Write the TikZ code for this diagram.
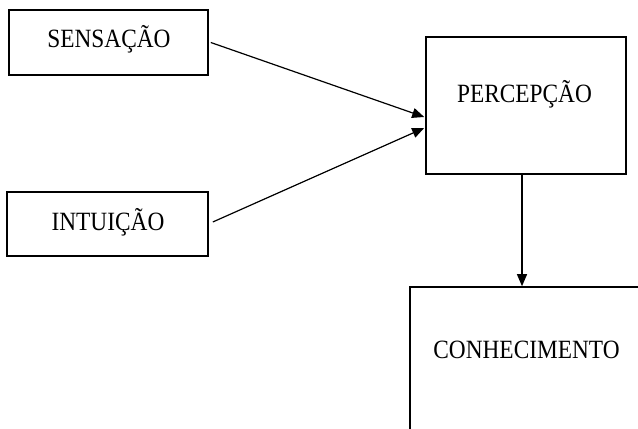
\documentclass[tikz,border=0pt]{standalone}
\usepackage{fontspec}
\setmainfont{Liberation Serif}
\usetikzlibrary{arrows.meta,calc}
\begin{document}
\begin{tikzpicture}[x=0.75pt,y=-0.75pt,
  box/.style={draw,line width=1.2pt,rectangle,inner sep=0pt},
  txt/.style={anchor=base,inner sep=0pt,font=\fontsize{17.5pt}{20pt}\selectfont},
  conn/.style={line width=0.9pt,-{Triangle[length=9pt,width=7.5pt]}}]
\useasboundingbox (0,0) rectangle (638,428);
\clip (0,0) rectangle (638,428);
\fill[white] (0,0) rectangle (638,428);
% boxes
\node[box,minimum width=149.25pt,minimum height=48.75pt] (sens) at (108.5,42.5) {};
\node[box,minimum width=150.75pt,minimum height=48pt] (intu) at (107.5,224) {};
\node[box,minimum width=150pt,minimum height=102.75pt] (perc) at (526,105.5) {};
\node[box,minimum width=187.5pt,minimum height=150pt] (conh) at (535,387) {};
% labels
\node[txt] (tsens) at (109,48) {\scalebox{1}[1.13]{SENSAÇÃO}};
\node[txt] (tintu) at (108,230) {\scalebox{1}[1.13]{INTUIÇÃO}};
\node[txt] (tperc) at (524.5,103) {\scalebox{1}[1.13]{PERCEPÇÃO}};
\node[txt] (tconh) at (526.5,358) {\scalebox{1}[1.13]{CONHECIMENTO}};
% connectors
\draw[conn] ($(sens.east)+(2,0)$) -- ($(perc.west)+(-1,11.5)$);
\draw[conn] ($(intu.east)+(4,-2)$) -- ($(perc.west)+(-1,22.5)$);
\coordinate (pdown) at ($(perc.south)+(-4,0)$);
\draw[conn] (pdown) -- (pdown |- conh.north);
\end{tikzpicture}
\end{document}
